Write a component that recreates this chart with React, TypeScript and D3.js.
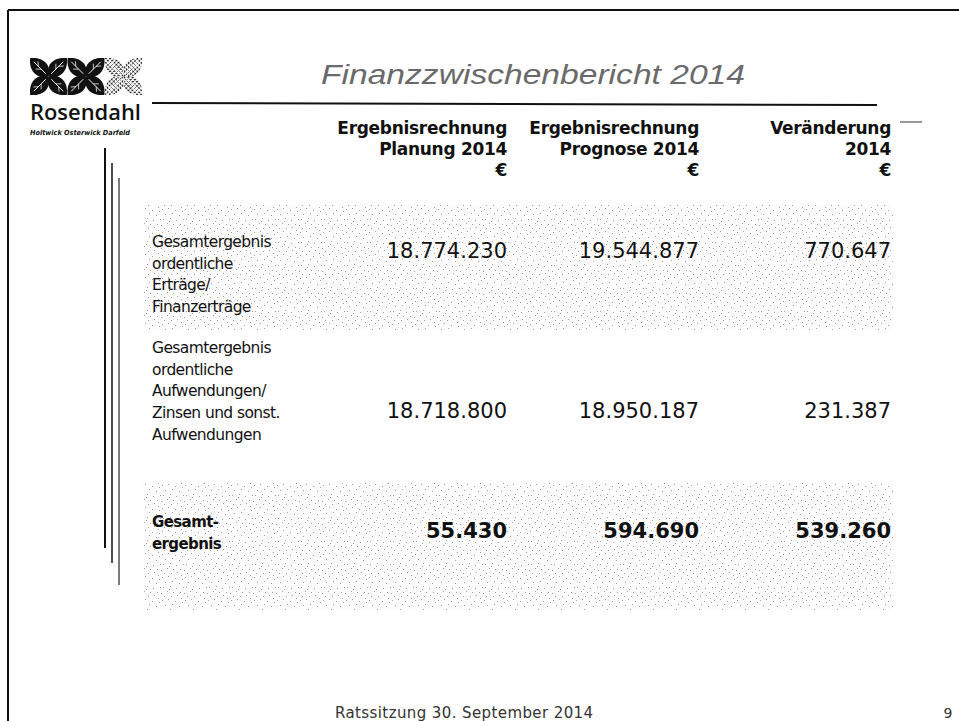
import React from "react";
import * as d3 from "d3";

const title = "Finanzzwischenbericht 2014";
const columnHeaders = [
  ["Ergebnisrechnung", "Planung 2014", "€"],
  ["Ergebnisrechnung", "Prognose 2014", "€"],
  ["Veränderung", "2014", "€"],
];
const rowLabels = [
  ["Gesamtergebnis", "ordentliche", "Erträge/", "Finanzerträge"],
  ["Gesamtergebnis", "ordentliche", "Aufwendungen/", "Zinsen und sonst.", "Aufwendungen"],
  ["Gesamt-", "ergebnis"],
];
const planung2014 = [18774230, 18718800, 55430];
const prognose2014 = [19544877, 18950187, 594690];
const veraenderung2014 = [770647, 231387, 539260];
const footerText = "Ratssitzung 30. September 2014";
const pageNumber = "9";

const W = 959;
const H = 721;

const de = d3.formatLocale({ decimal: ",", thousands: ".", grouping: [3], currency: ["", " €"] });
const fmt = de.format(",d");

// layout
const colX = d3.scalePoint<number>().domain([0, 1, 2]).range([507, 891]);
const rowValueY = [250, 410, 530];
const rowLabelY = [242, 348, 522];
const bands = [
  { y0: 205, y1: 330 },
  { y0: 483, y1: 610 },
];

function Leaf({ angle, len, w, fill }: { angle: number; len: number; w: number; fill: string }) {
  const p = d3.path();
  p.moveTo(0, 0);
  p.bezierCurveTo(len * 0.25, -w, len * 0.7, -w * 0.9, len, 0);
  p.bezierCurveTo(len * 0.7, w * 0.9, len * 0.25, w, 0, 0);
  p.closePath();
  return (
    <g transform={`rotate(${angle})`}>
      <path d={p.toString()} fill={fill} />
      <line x1={len * 0.15} y1={0} x2={len * 0.8} y2={0} stroke="#fff" strokeWidth={0.9} />
      <line x1={len * 0.4} y1={0} x2={len * 0.55} y2={-w * 0.35} stroke="#fff" strokeWidth={0.7} />
      <line x1={len * 0.55} y1={0} x2={len * 0.7} y2={w * 0.3} stroke="#fff" strokeWidth={0.7} />
    </g>
  );
}

function Motif({ cx, cy, fill }: { cx: number; cy: number; fill: string }) {
  const len = 26;
  const w = 11;
  return (
    <g transform={`translate(${cx},${cy})`}>
      {[45, 135, 225, 315].map((a) => (
        <Leaf key={a} angle={a} len={len} w={w} fill={fill} />
      ))}
    </g>
  );
}

const stippleDots: [number, number][] = [
  [1, 2], [7, 1], [14, 3], [20, 0], [4, 7], [11, 6], [18, 8], [22, 12],
  [2, 12], [9, 11], [15, 13], [6, 16], [12, 17], [19, 17], [0, 18], [16, 20],
  [3, 21], [10, 21], [21, 4], [8, 14],
];

export default function App() {
  const values = [planung2014, prognose2014, veraenderung2014];
  return (
    <svg width={W} height={H} style={{ position: "absolute", left: 0, top: 0, background: "#fff" }}>
      <defs>
        <pattern id="stipple" width={23} height={23} patternUnits="userSpaceOnUse">
          <rect width={23} height={23} fill="#fcfcfc" />
          {stippleDots.map(([x, y], i) => (
            <rect key={i} x={x} y={y} width={1} height={1} fill="#a0a0a0" />
          ))}
        </pattern>
        <pattern id="hatch" width={3} height={3} patternUnits="userSpaceOnUse">
          <rect width={3} height={3} fill="#fff" />
          <rect x={0} y={0} width={2} height={1} fill="#222" />
          <rect x={1} y={2} width={1} height={1} fill="#222" />
        </pattern>
      </defs>
      <rect x={0} y={0} width={W} height={H} fill="#fff" />

      {/* frame */}
      <line x1={8} y1={10} x2={W} y2={10} stroke="#111" strokeWidth={2} />
      <line x1={8} y1={10} x2={8} y2={H} stroke="#111" strokeWidth={2} />

      {/* logo */}
      <Motif cx={48.5} cy={76.5} fill="#111" />
      <Motif cx={86} cy={76.5} fill="#111" />
      <Motif cx={123.5} cy={76.5} fill="url(#hatch)" />
      <text x={30} y={120} fontFamily="'Open Sans', 'DejaVu Sans', sans-serif" fontWeight={600} fontSize={22} fill="#111" textLength={111} lengthAdjust="spacingAndGlyphs">
        Rosendahl
      </text>
      <text x={30} y={135} fontFamily="'DejaVu Sans', sans-serif" fontStyle="italic" fontWeight={700} fontSize={7} fill="#111" textLength={100} lengthAdjust="spacingAndGlyphs">
        Holtwick Osterwick Darfeld
      </text>

      {/* vertical lines */}
      <line x1={105} y1={148} x2={105} y2={548} stroke="#111" strokeWidth={2} />
      <line x1={112} y1={163} x2={112} y2={563} stroke="#111" strokeWidth={1.5} />
      <line x1={119} y1={178} x2={119} y2={585} stroke="#222" strokeWidth={1.2} />

      {/* title */}
      <text x={321} y={84} fontFamily="'Liberation Sans', Arial, sans-serif" fontStyle="italic" fontSize={28} fill="#6a6a6a" textLength={424} lengthAdjust="spacingAndGlyphs">
        {title}
      </text>
      <line x1={152} y1={103} x2={877} y2={105} stroke="#111" strokeWidth={2} />
      <line x1={900} y1={122} x2={922} y2={122} stroke="#555" strokeWidth={1.2} />

      {/* shaded bands */}
      {bands.map((b, i) => (
        <rect key={i} x={143} y={b.y0} width={750} height={b.y1 - b.y0} fill="url(#stipple)" />
      ))}

      {/* column headers */}
      {columnHeaders.map((lines, ci) => (
        <text key={ci} fontFamily="'DejaVu Sans', sans-serif" fontWeight={700} fontSize={17} fill="#111" textAnchor="end" letterSpacing={-0.3}>
          {lines.map((l, li) => (
            <tspan key={li} x={colX(ci)} y={134 + li * 21}>
              {l}
            </tspan>
          ))}
        </text>
      ))}

      {/* row labels */}
      {rowLabels.map((lines, ri) => (
        <text key={ri} fontFamily="'DejaVu Sans', sans-serif" fontSize={ri === 2 ? 15 : 15.5} fontWeight={ri === 2 ? 700 : 400} fill="#111" letterSpacing={-0.6}>
          {lines.map((l, li) => (
            <tspan key={li} x={152} y={rowLabelY[ri] + 5 + li * 21.7}>
              {l}
            </tspan>
          ))}
        </text>
      ))}

      {/* values */}
      {values.map((col, ci) =>
        col.map((v, ri) => (
          <text
            key={`${ci}-${ri}`}
            x={colX(ci)}
            y={rowValueY[ri] + 8}
            textAnchor="end"
            fontFamily="'DejaVu Sans', sans-serif"
            fontSize={21}
            fontWeight={ri === 2 ? 700 : 400}
            fill="#111"
          >
            {fmt(v)}
          </text>
        ))
      )}

      {/* footer */}
      <text x={335} y={718} fontFamily="'DejaVu Sans', sans-serif" fontSize={15} fill="#333" letterSpacing={0.4}>
        {footerText}
      </text>
      <text x={948} y={718} textAnchor="middle" fontFamily="'DejaVu Sans', sans-serif" fontSize={14} fill="#333">
        {pageNumber}
      </text>
    </svg>
  );
}
